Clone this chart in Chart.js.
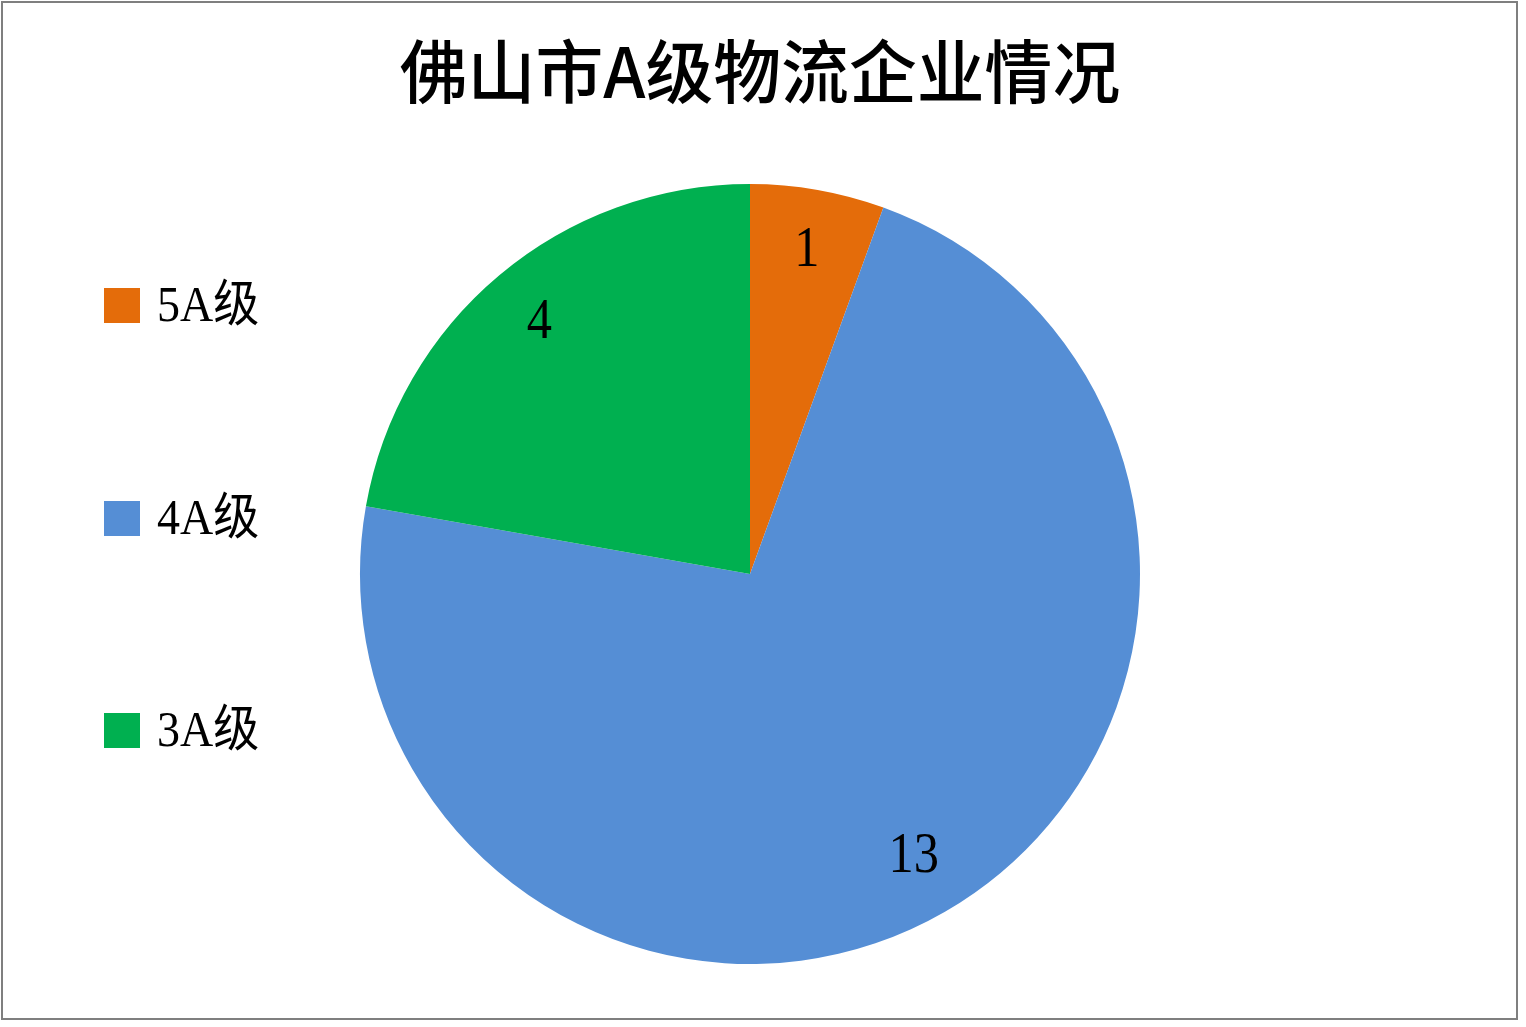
<!DOCTYPE html>
<html>
<head>
<meta charset="utf-8">
<script src="https://cdn.jsdelivr.net/npm/chart.js@4/dist/chart.umd.min.js"></script>
<style>
  html, body { margin: 0; padding: 0; background: #fff; }
  #wrap { position: relative; width: 1526px; height: 1027px; }
</style>
</head>
<body>
<div id="wrap"><canvas id="pie"></canvas></div>
<script>
const chartTitle = '佛山市A级物流企业情况';
const levels = ['5A级', '4A级', '3A级'];
const counts = [1, 13, 4];
const sliceColors = ['#E46C0A', '#558ED5', '#00B050'];

const serif = '"Liberation Serif", "Noto Sans CJK SC", serif';

// title, legend, frame and value labels drawn on the canvas
const decorations = {
    id: 'decorations',
    beforeDraw(chart) {
        const ctx = chart.ctx;
        ctx.save();
        ctx.strokeStyle = '#7f7f7f';
        ctx.lineWidth = 2;
        ctx.strokeRect(2, 2, 1515, 1017);
        ctx.restore();
    },
    afterDatasetsDraw(chart) {
        const ctx = chart.ctx;
        const meta = chart.getDatasetMeta(0);
        const ds = chart.data.datasets[0];
        ctx.save();

        // title
        ctx.fillStyle = '#000';
        ctx.textAlign = 'center';
        ctx.textBaseline = 'middle';
        ctx.font = '500 64px "Noto Sans CJK SC", sans-serif';
        ctx.save();
        ctx.translate(760, 72);
        ctx.scale(1.06, 1.08);
        ctx.fillText(chartTitle, 0, 0);
        ctx.restore();

        // legend
        const legendY = [306, 519, 731];
        chart.data.labels.forEach((lab, i) => {
            ctx.fillStyle = ds.backgroundColor[i];
            ctx.fillRect(104, legendY[i] - 18, 36, 35);
            ctx.fillStyle = '#000';
            ctx.textAlign = 'left';
            ctx.font = '50px ' + serif;
            ctx.save();
            ctx.translate(157, legendY[i] + 2);
            ctx.scale(0.92, 1);
            ctx.fillText(lab, 0, 0);
            ctx.restore();
        });

        // value labels inside the slices
        meta.data.forEach((arc, i) => {
            const p = arc.getProps(['x', 'y', 'startAngle', 'endAngle', 'outerRadius'], true);
            const mid = (p.startAngle + p.endAngle) / 2;
            const r = p.outerRadius * 0.84;
            const x = p.x + Math.cos(mid) * r;
            const y = p.y + Math.sin(mid) * r;
            ctx.fillStyle = '#000';
            ctx.textAlign = 'center';
            ctx.font = '56px ' + serif;
            ctx.save();
            ctx.translate(x, y);
            ctx.scale(0.9, 1);
            ctx.fillText(String(ds.data[i]), 0, 0);
            ctx.restore();
        });
        ctx.restore();
    }
};

new Chart(document.getElementById('pie'), {
    type: 'pie',
    data: {
        labels: levels,
        datasets: [{
            data: counts,
            backgroundColor: sliceColors,
            borderWidth: 0
        }]
    },
    options: {
        responsive: true,
        maintainAspectRatio: false,
        animation: false,
        layout: { padding: { left: 360, right: 386, top: 184, bottom: 63 } },
        plugins: {
            legend: { display: false },
            title: { display: false },
            tooltip: { enabled: false }
        }
    },
    plugins: [decorations]
});
</script>
</body>
</html>
